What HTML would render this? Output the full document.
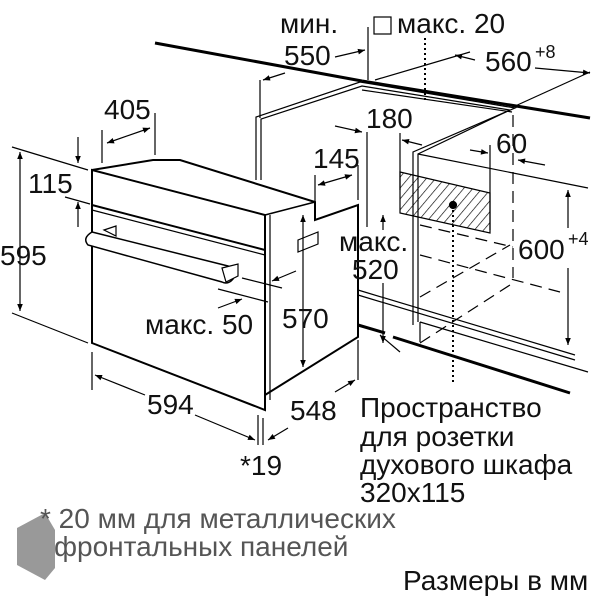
<!DOCTYPE html>
<html><head><meta charset="utf-8"><style>
html,body{margin:0;padding:0;background:#fff;width:600px;height:600px;overflow:hidden}
svg{display:block}
text{font-family:"Liberation Sans",sans-serif;fill:#111}
</style></head><body>
<svg width="600" height="600" viewBox="0 0 600 600" xmlns="http://www.w3.org/2000/svg">
<defs>
<marker id="a" viewBox="0 0 10 10" refX="10" refY="5" markerWidth="9" markerHeight="7" orient="auto-start-reverse" markerUnits="userSpaceOnUse"><path d="M0,1 L10,5 L0,9 z" fill="#000"/></marker>
<pattern id="h" width="7" height="7" patternUnits="userSpaceOnUse" patternTransform="rotate(40)"><line x1="0" y1="0" x2="0" y2="7" stroke="#000" stroke-width="1.3"/></pattern>
</defs>
<g stroke="#000" fill="none" stroke-width="1.2">
<line x1="155" y1="43" x2="362" y2="81" stroke-width="3"/>
<line x1="362" y1="81" x2="590" y2="118" stroke-width="3"/>
<polyline points="256,180 256,117 360,82 515,108 413,152 413,325"/>
<polyline points="261,180 261,119 362,86 510,110 418,154 418,322"/>
<line x1="362" y1="90" x2="512" y2="112"/>
<line x1="418" y1="154" x2="588" y2="188"/>
<line x1="375" y1="80" x2="470" y2="52"/>
<line x1="513" y1="107" x2="590" y2="72"/>
<polygon points="400,172 490,193 490,233 400,213" fill="url(#h)"/>
<circle cx="453" cy="205" r="3.5" fill="#000"/>
<line x1="425" y1="38" x2="425" y2="100" stroke-dasharray="2,3" stroke-width="2"/>
<line x1="453" y1="210" x2="453" y2="385" stroke-dasharray="2,3" stroke-width="2"/>
<g stroke-dasharray="12,7">
<line x1="513" y1="115" x2="513" y2="278"/>
<line x1="420" y1="225" x2="513" y2="247"/>
<line x1="420" y1="255" x2="560" y2="292"/>
<line x1="420" y1="297" x2="510" y2="245"/>
<line x1="420" y1="343" x2="510" y2="285"/>
</g>
<line x1="358" y1="290" x2="575" y2="355"/>
<line x1="358" y1="295" x2="575" y2="360"/>
<line x1="420" y1="322" x2="588" y2="372"/>
<line x1="358" y1="325" x2="385" y2="333" stroke-width="3"/>
<line x1="393" y1="337" x2="570" y2="393" stroke-width="3"/>
<line x1="380" y1="335" x2="400" y2="352"/>
<line x1="420" y1="322" x2="420" y2="342"/>
<polygon points="92,170 265,215 265,410 92,343" stroke-width="2"/>
<polyline points="92,170 153,160 180,160 315,202 315,220 358,205 358,337 265,395" stroke-width="2"/>
<line x1="265" y1="215" x2="315" y2="202" stroke-width="1.5"/>
<line x1="92" y1="205" x2="265" y2="250" stroke-width="2"/>
<line x1="92" y1="210" x2="265" y2="255"/>
<line x1="270" y1="215" x2="270" y2="400"/>
<polygon points="298,240 318,232 318,244 298,252"/>
<path d="M92,232 L228,266 Q238,270 233,279 Q228,285 222,282 L88,245 Q82,238 92,232 z" stroke-width="1.5" fill="#fff"/>
<polygon points="104,230 116,226 116,236" fill="#fff"/>
<polygon points="222,268 238,264 238,276 226,282" fill="#fff"/>
<line x1="12" y1="147" x2="88" y2="170"/>
<line x1="12" y1="313" x2="88" y2="343"/>
<line x1="20" y1="152" x2="20" y2="311" marker-start="url(#a)" marker-end="url(#a)"/>
<line x1="78" y1="137" x2="78" y2="163" marker-end="url(#a)"/>
<line x1="78" y1="227" x2="78" y2="202" marker-end="url(#a)"/>
<line x1="65" y1="197" x2="90" y2="204"/>
<line x1="102" y1="130" x2="102" y2="163"/>
<line x1="155" y1="113" x2="155" y2="155"/>
<line x1="107" y1="143" x2="150" y2="128" marker-start="url(#a)" marker-end="url(#a)"/>
<line x1="315" y1="175" x2="315" y2="202"/>
<line x1="358" y1="165" x2="358" y2="200"/>
<line x1="318" y1="185" x2="352" y2="175" marker-start="url(#a)" marker-end="url(#a)"/>
<line x1="303" y1="215" x2="303" y2="367" marker-start="url(#a)" marker-end="url(#a)"/>
<line x1="242" y1="278" x2="282" y2="288"/>
<line x1="296" y1="271" x2="272" y2="281" marker-end="url(#a)"/>
<line x1="218" y1="289" x2="268" y2="302"/>
<line x1="218" y1="308" x2="242" y2="299" marker-end="url(#a)"/>
<line x1="92" y1="352" x2="92" y2="390"/>
<line x1="258" y1="415" x2="258" y2="445"/>
<line x1="263" y1="418" x2="263" y2="445"/>
<line x1="95" y1="375" x2="145" y2="395" marker-start="url(#a)"/>
<line x1="195" y1="415" x2="255" y2="440" marker-end="url(#a)"/>
<line x1="358" y1="340" x2="358" y2="380"/>
<line x1="268" y1="440" x2="288" y2="428" marker-start="url(#a)"/>
<line x1="335" y1="392" x2="355" y2="380" marker-end="url(#a)"/>
<line x1="260" y1="80" x2="260" y2="118"/>
<line x1="263" y1="80" x2="285" y2="73" marker-start="url(#a)"/>
<line x1="335" y1="57" x2="365" y2="50" marker-end="url(#a)"/>
<line x1="368" y1="27" x2="368" y2="80"/>
<line x1="455" y1="55" x2="475" y2="60" marker-start="url(#a)"/>
<line x1="535" y1="68" x2="590" y2="73" marker-end="url(#a)"/>
<line x1="335" y1="126" x2="362" y2="132" marker-end="url(#a)"/>
<line x1="367" y1="132" x2="367" y2="227"/>
<line x1="400" y1="133" x2="400" y2="190"/>
<line x1="402" y1="140" x2="422" y2="145" marker-start="url(#a)"/>
<line x1="490" y1="145" x2="490" y2="230"/>
<line x1="470" y1="150" x2="488" y2="153" marker-end="url(#a)"/>
<line x1="545" y1="165" x2="518" y2="160" marker-end="url(#a)"/>
<line x1="568" y1="190" x2="568" y2="228" marker-start="url(#a)"/>
<line x1="568" y1="268" x2="568" y2="345" marker-end="url(#a)"/>
<line x1="383" y1="230" x2="383" y2="215" marker-end="url(#a)"/>
<line x1="383" y1="283" x2="383" y2="343" marker-end="url(#a)"/>
<line x1="358" y1="283" x2="358" y2="325" stroke-width="2"/>
<rect x="374" y="17" width="17" height="17"/>
</g>
<polygon points="17,528 45,513 55,530 55,568 45,580 17,565" fill="#999"/>
<g font-size="28">
<text x="280" y="33">мин.</text>
<text x="284" y="65">550</text>
<text x="397" y="33">макс. 20</text>
<text x="485" y="71">560</text><text x="535" y="58" font-size="18">+8</text>
<text x="104" y="119">405</text>
<text x="28" y="193">115</text>
<text x="0" y="265">595</text>
<text x="313" y="168">145</text>
<text x="366" y="128">180</text>
<text x="496" y="153">60</text>
<text x="339" y="251">макс.</text>
<text x="352" y="279">520</text>
<text x="518" y="259">600</text><text x="568" y="245" font-size="18">+4</text>
<text x="282" y="328">570</text>
<text x="145" y="334">макс. 50</text>
<text x="147" y="414">594</text>
<text x="290" y="420">548</text>
<text x="240" y="475">*19</text>
<text x="360" y="417">Пространство</text>
<text x="360" y="446">для розетки</text>
<text x="360" y="474">духового шкафа</text>
<text x="360" y="502">320x115</text>
<text x="40" y="528" style="fill:#555">* 20 мм для металлических</text>
<text x="54" y="556" style="fill:#555">фронтальных панелей</text>
<text x="403" y="590">Размеры в мм</text>
</g>
</svg>
</body></html>
